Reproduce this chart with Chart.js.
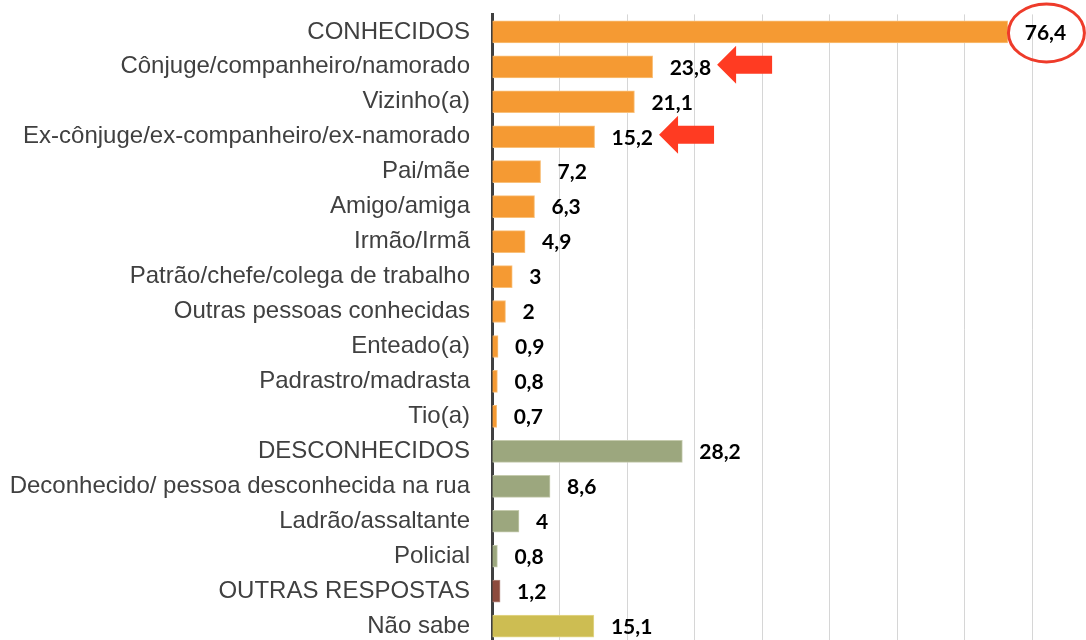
<!DOCTYPE html>
<html lang="pt">
<head>
    <meta charset="UTF-8">
    <title>Autor da agressão</title>
    <style>
        html, body {
            margin: 0;
            padding: 0;
            background-color: #ffffff;
            overflow: hidden;
        }
        .chart-container {
            position: relative;
            width: 1086px;
            height: 658px;
        }
    </style>
</head>
<body>
    <div class="chart-container">
        <canvas id="authorChart"></canvas>
    </div>

    <script src="https://cdn.jsdelivr.net/npm/chart.js"></script>
    <script>
        // Data
        var categories = [
            'CONHECIDOS',
            'Cônjuge/companheiro/namorado',
            'Vizinho(a)',
            'Ex-cônjuge/ex-companheiro/ex-namorado',
            'Pai/mãe',
            'Amigo/amiga',
            'Irmão/Irmã',
            'Patrão/chefe/colega de trabalho',
            'Outras pessoas conhecidas',
            'Enteado(a)',
            'Padrastro/madrasta',
            'Tio(a)',
            'DESCONHECIDOS',
            'Deconhecido/ pessoa desconhecida na rua',
            'Ladrão/assaltante',
            'Policial',
            'OUTRAS RESPOSTAS',
            'Não sabe'
        ];
        var values = [76.4, 23.8, 21.1, 15.2, 7.2, 6.3, 4.9, 3, 2, 0.9, 0.8, 0.7, 28.2, 8.6, 4, 0.8, 1.2, 15.1];
        var groups = ['k', 'k', 'k', 'k', 'k', 'k', 'k', 'k', 'k', 'k', 'k', 'k', 'd', 'd', 'd', 'd', 'o', 'n'];
        var circled = ['CONHECIDOS'];
        var arrowed = ['Cônjuge/companheiro/namorado', 'Ex-cônjuge/ex-companheiro/ex-namorado'];

        // Colours per group
        var fillColors = { k: '#F59A33', d: '#9CA77E', o: '#8C4B3E', n: '#CDBD52' };
        var edgeColors = { k: '#F9C07A', d: '#C5CBAE', o: '#B58A80', n: '#E4D98E' };

        var valueFont = 'bold 21px Lato, "DejaVu Sans", sans-serif';

        function fmt(v) {
            return String(v).replace('.', ',');
        }

        // value labels, circle and arrows drawn next to the bars
        var labelPlugin = {
            id: 'valueLabels',
            afterDatasetsDraw: function(chart) {
                var ctx = chart.ctx;
                var meta = chart.getDatasetMeta(0);
                ctx.save();
                ctx.font = valueFont;
                ctx.fillStyle = '#000000';
                ctx.textBaseline = 'middle';
                ctx.textAlign = 'left';
                meta.data.forEach(function(bar, i) {
                    var text = fmt(values[i]);
                    var tx = bar.x + 17;
                    ctx.fillText(text, tx, bar.y + 1);
                    var w = ctx.measureText(text).width;

                    if (circled.indexOf(categories[i]) >= 0) {
                        ctx.save();
                        ctx.strokeStyle = '#EE3B2A';
                        ctx.lineWidth = 3;
                        ctx.beginPath();
                        ctx.ellipse(tx + w / 2 + 1, bar.y + 1, 38, 29, 0, 0, Math.PI * 2);
                        ctx.stroke();
                        ctx.restore();
                    }

                    if (arrowed.indexOf(categories[i]) >= 0) {
                        var tipX = tx + w + 6;
                        var cy = bar.y - 2;
                        ctx.save();
                        ctx.fillStyle = '#FF3B22';
                        ctx.beginPath();
                        ctx.moveTo(tipX, cy);
                        ctx.lineTo(tipX + 19, cy - 19);
                        ctx.lineTo(tipX + 19, cy - 9);
                        ctx.lineTo(tipX + 55, cy - 9);
                        ctx.lineTo(tipX + 55, cy + 9);
                        ctx.lineTo(tipX + 19, cy + 9);
                        ctx.lineTo(tipX + 19, cy + 19);
                        ctx.closePath();
                        ctx.fill();
                        ctx.restore();
                    }
                });
                ctx.restore();
            }
        };

        var ctx = document.getElementById('authorChart').getContext('2d');
        var authorChart = new Chart(ctx, {
            type: 'bar',
            data: {
                labels: categories,
                datasets: [{
                    data: values,
                    backgroundColor: groups.map(function(g) { return fillColors[g]; }),
                    borderColor: groups.map(function(g) { return edgeColors[g]; }),
                    borderWidth: 1,
                    borderSkipped: 'start',
                    barThickness: 22
                }]
            },
            options: {
                indexAxis: 'y',
                responsive: true,
                maintainAspectRatio: false,
                animation: false,
                layout: {
                    padding: 0
                },
                plugins: {
                    legend: { display: false },
                    tooltip: { enabled: false }
                },
                scales: {
                    x: {
                        min: 0,
                        max: 88,
                        afterFit: function(scale) {
                            scale.height = 0;
                        },
                        ticks: { display: false, stepSize: 10, padding: 0 },
                        grid: {
                            color: '#D6D6D6',
                            lineWidth: 1,
                            drawTicks: false
                        },
                        border: { display: false }
                    },
                    y: {
                        afterFit: function(scale) {
                            scale.width = 492;
                        },
                        ticks: {
                            color: '#404040',
                            padding: 0,
                            font: { family: 'Liberation Sans, Arial, sans-serif', size: 24 }
                        },
                        // invisible tick marks give the gap between labels and axis
                        grid: { display: false, drawTicks: true, tickLength: 22 },
                        border: { display: true, color: '#404040', width: 3 }
                    }
                }
            },
            plugins: [labelPlugin]
        });
    </script>
</body>
</html>
